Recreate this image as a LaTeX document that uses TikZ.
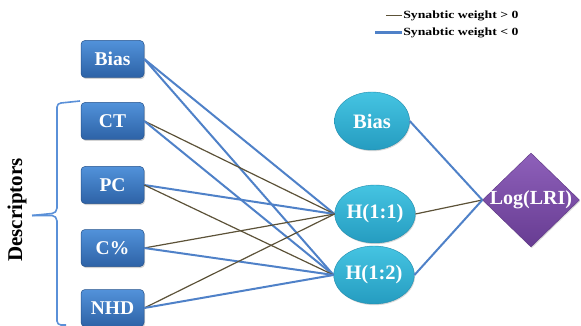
\documentclass[tikz,border=0pt]{standalone}
\usepackage{fontspec}
\setmainfont{Liberation Serif}
\usetikzlibrary{shapes.geometric,shadows}
\definecolor{boxtop}{HTML}{5292DA}
\definecolor{boxbot}{HTML}{2D62A6}
\definecolor{ellTop}{HTML}{45C4E2}
\definecolor{ellBot}{HTML}{259CC0}
\definecolor{diaTop}{HTML}{8E60BA}
\definecolor{diaBot}{HTML}{673C92}
\definecolor{negw}{HTML}{4F81C8}
\definecolor{posw}{HTML}{5C5238}
\definecolor{bracec}{HTML}{5A90D8}
\tikzset{
  inbox/.style={rectangle, rounded corners=4pt, minimum width=63pt, minimum height=37pt,
    top color=boxtop, bottom color=boxbot, draw=boxbot!85!black, line width=0.5pt,
    drop shadow={opacity=0.35, shadow xshift=1pt, shadow yshift=-1.5pt},
    text=white, font=\fontsize{19.5}{21}\selectfont\bfseries},
  hid/.style={ellipse, minimum width=75pt, minimum height=58pt, inner sep=0pt,
    top color=ellTop, bottom color=ellBot, draw=ellBot!90!black, line width=0.4pt,
    drop shadow={opacity=0.3, shadow xshift=0.8pt, shadow yshift=-1.2pt},
    text=white, font=\fontsize{20.5}{22}\selectfont\bfseries},
  outd/.style={diamond, minimum width=97pt, minimum height=94pt, inner sep=0pt, aspect=1,
    top color=diaTop, bottom color=diaBot, draw=diaBot!90!black, line width=0.4pt,
    drop shadow={opacity=0.3, shadow xshift=0.8pt, shadow yshift=-1.2pt}},
  lbl/.style={text=white, font=\fontsize{20}{22}\selectfont\bfseries, inner sep=0pt},
  negwt/.style={draw=negw, line width=2pt},
  poswt/.style={draw=posw, line width=1.2pt},
  legtxt/.style={font=\fontsize{11}{12}\selectfont\bfseries, anchor=west, inner sep=0pt, xscale=1.25}
}
\begin{document}
\begin{tikzpicture}[x=1pt,y=-1pt]
\useasboundingbox (0,0) rectangle (581,326);

% input layer
\node[inbox] (ib)  at (112.5,59)  {Bias};
\node[inbox] (ct)  at (112.5,121) {CT};
\node[inbox] (pc)  at (112.5,185) {PC};
\node[inbox] (cp)  at (112.5,248) {C\%};
\node[inbox] (nhd) at (112.5,308) {NHD};

% hidden layer
\node[hid] (hb) at (372,121) {Bias};
\node[hid] (h1) at (375,214) {H(1:1)};
\node[hid] (h2) at (374,275) {H(1:2)};

% output
\node[outd] (lo) at (531,200) {};
\node[lbl] at (lo.center) {Log(LRI)};

% input -> hidden weights
\draw[negwt] (ib.east) -- (h1.west);
\draw[negwt] (ib.east) -- (h2.west);
\draw[poswt] (ct.east) -- (h1.west);
\draw[negwt] (ct.east) -- (h2.west);
\draw[negwt] (pc.east) -- (h1.west);
\draw[poswt] (pc.east) -- (h2.west);
\draw[poswt] (cp.east) -- (h1.west);
\draw[negwt] (cp.east) -- (h2.west);
\draw[poswt] (nhd.east) -- (h1.west);
\draw[negwt] (nhd.east) -- (h2.west);

% hidden -> output weights
\draw[negwt] (hb.east) -- (lo.west);
\draw[poswt] (h1.east) -- (lo.west);
\draw[negwt] (h2.east) -- (lo.west);

% descriptor brace
\draw[bracec, line width=1.6pt, line join=round]
  (80,101) -- (61,103) to[out=180,in=90] (57,107) -- (57,208)
  to[out=-90,in=0] (52,213.5) -- (32,215.5);
\draw[bracec, line width=1.6pt, line join=round]
  (32,215.5) -- (52,215.5) to[out=0,in=90] (57,221) -- (57,321)
  to[out=-90,in=180] (61,325) -- (66,325);
\node[rotate=90, font=\fontsize{21}{23}\selectfont\bfseries, inner sep=0pt] (desc) at (17,210) {Descriptors};

% legend
\coordinate (la) at (386,15.5);
\coordinate (lb) at (402,15.5);
\coordinate (lc) at (375,32.5);
\coordinate (ld) at (402,32.5);
\draw[poswt, line width=1.3pt] (la) -- (lb);
\draw[negwt, line width=2.5pt] (lc) -- (ld);
\node[legtxt] (lt1) at (403,15.5) {Synabtic weight > 0};
\node[legtxt] (lt2) at (403,32.5) {Synabtic weight < 0};
\end{tikzpicture}
\end{document}
